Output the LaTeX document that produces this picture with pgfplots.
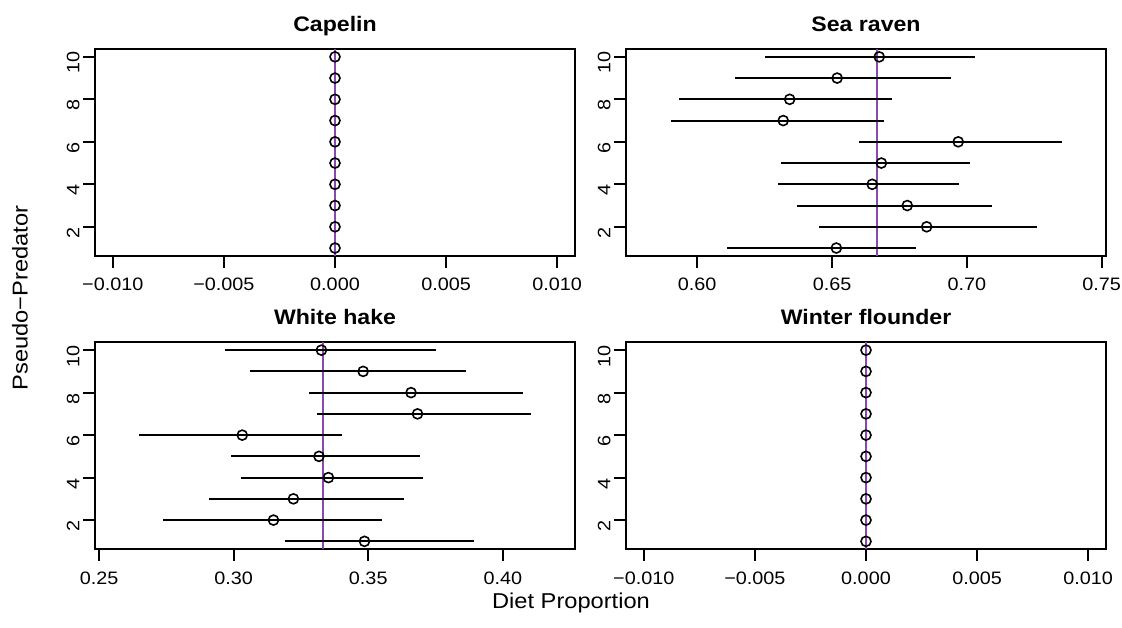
\documentclass[border=0pt]{standalone}
\usepackage{fontspec}
\setmainfont{Liberation Sans}[FakeStretch=1.1]
\usepackage{pgfplots}
\pgfplotsset{compat=1.18}
\definecolor{meanline}{RGB}{140,70,175}

\pgfplotsset{
  dietpanel/.style={
    scale only axis, width=480pt, height=206.5pt,
    anchor=south west,
    ymin=0.64, ymax=10.36,
    scaled x ticks=false, scaled y ticks=false,
    ytick={2,4,6,8,10}, yticklabels={2,4,6,8,10},
    xtick pos=bottom, ytick pos=left,
    tick align=outside, major tick length=12pt,
    every tick/.style={black, line width=2pt},
    axis line style={line width=2pt},
    tick label style={font=\fontsize{18}{20}\selectfont},
    xticklabel style={yshift=-7pt},
    yticklabel style={rotate=90, anchor=south, xshift=-6pt},
    title style={font=\fontsize{21}{24}\selectfont\bfseries, at={(0.5,1)}, anchor=base, yshift=12pt},
  },
  zeropanel/.style={
    dietpanel,
    xmin=-0.0108, xmax=0.0108,
    xtick={-0.01,-0.005,0,0.005,0.01},
    xticklabels={−0.010,−0.005,0.000,0.005,0.010},
  },
  interval/.style={black, only marks, mark=o, mark size=5pt, mark options={line width=1.6pt},
    error bars/.cd, x dir=both, x explicit, error mark=none,
    error bar style={line width=2pt, black}},
}

\begin{document}
\begin{tikzpicture}
\useasboundingbox (0,0) rectangle (1122pt,628pt);

% Capelin
\begin{axis}[zeropanel, at={(95pt,372.3pt)}, title={Capelin}]
\addplot[meanline, line width=2pt] coordinates {(0,0) (0,11)};
\addplot[black, only marks, mark=o, mark size=5pt, mark options={line width=1.6pt}] coordinates {
(0,1) (0,2) (0,3) (0,4) (0,5) (0,6) (0,7) (0,8) (0,9) (0,10)};
\end{axis}

% Sea raven
\begin{axis}[dietpanel, at={(626pt,372.3pt)}, title={Sea raven},
  xmin=0.5736, xmax=0.7516,
  xtick={0.60,0.65,0.70,0.75}, xticklabels={0.60,0.65,0.70,0.75}]
\addplot[meanline, line width=2pt] coordinates {(0.6667,0) (0.6667,11)};
\addplot[interval] coordinates {
(0.6516,1) += (0.0295,0) -= (0.0406,0)
(0.6851,2) += (0.0410,0) -= (0.0401,0)
(0.6779,3) += (0.0313,0) -= (0.0409,0)
(0.6649,4) += (0.0323,0) -= (0.0348,0)
(0.6683,5) += (0.0329,0) -= (0.0372,0)
(0.6968,6) += (0.0384,0) -= (0.0367,0)
(0.6319,7) += (0.0374,0) -= (0.0418,0)
(0.6343,8) += (0.0379,0) -= (0.0412,0)
(0.6519,9) += (0.0422,0) -= (0.0378,0)
(0.6675,10) += (0.0356,0) -= (0.0424,0)
};
\end{axis}

% White hake
\begin{axis}[dietpanel, at={(95pt,79pt)}, title={White hake},
  xmin=0.2485, xmax=0.4268,
  xtick={0.25,0.30,0.35,0.40}, xticklabels={0.25,0.30,0.35,0.40}]
\addplot[meanline, line width=2pt] coordinates {(0.3333,0) (0.3333,11)};
\addplot[interval] coordinates {
(0.3486,1) += (0.0407,0) -= (0.0297,0)
(0.3148,2) += (0.0404,0) -= (0.0409,0)
(0.3222,3) += (0.0410,0) -= (0.0313,0)
(0.3352,4) += (0.0351,0) -= (0.0324,0)
(0.3317,5) += (0.0376,0) -= (0.0328,0)
(0.3032,6) += (0.0369,0) -= (0.0383,0)
(0.3683,7) += (0.0420,0) -= (0.0373,0)
(0.3659,8) += (0.0415,0) -= (0.0380,0)
(0.3481,9) += (0.0382,0) -= (0.0422,0)
(0.3326,10) += (0.0427,0) -= (0.0357,0)
};
\end{axis}

% Winter flounder
\begin{axis}[zeropanel, at={(626pt,79pt)}, title={Winter flounder}]
\addplot[meanline, line width=2pt] coordinates {(0,0) (0,11)};
\addplot[black, only marks, mark=o, mark size=5pt, mark options={line width=1.6pt}] coordinates {
(0,1) (0,2) (0,3) (0,4) (0,5) (0,6) (0,7) (0,8) (0,9) (0,10)};
\end{axis}

\node[rotate=90, font=\fontsize{21.5}{24}\selectfont] at (20pt,330pt) {Pseudo−Predator};
\node[font=\fontsize{21.5}{24}\selectfont] at (571pt,25pt) {Diet Proportion};
\end{tikzpicture}
\end{document}
